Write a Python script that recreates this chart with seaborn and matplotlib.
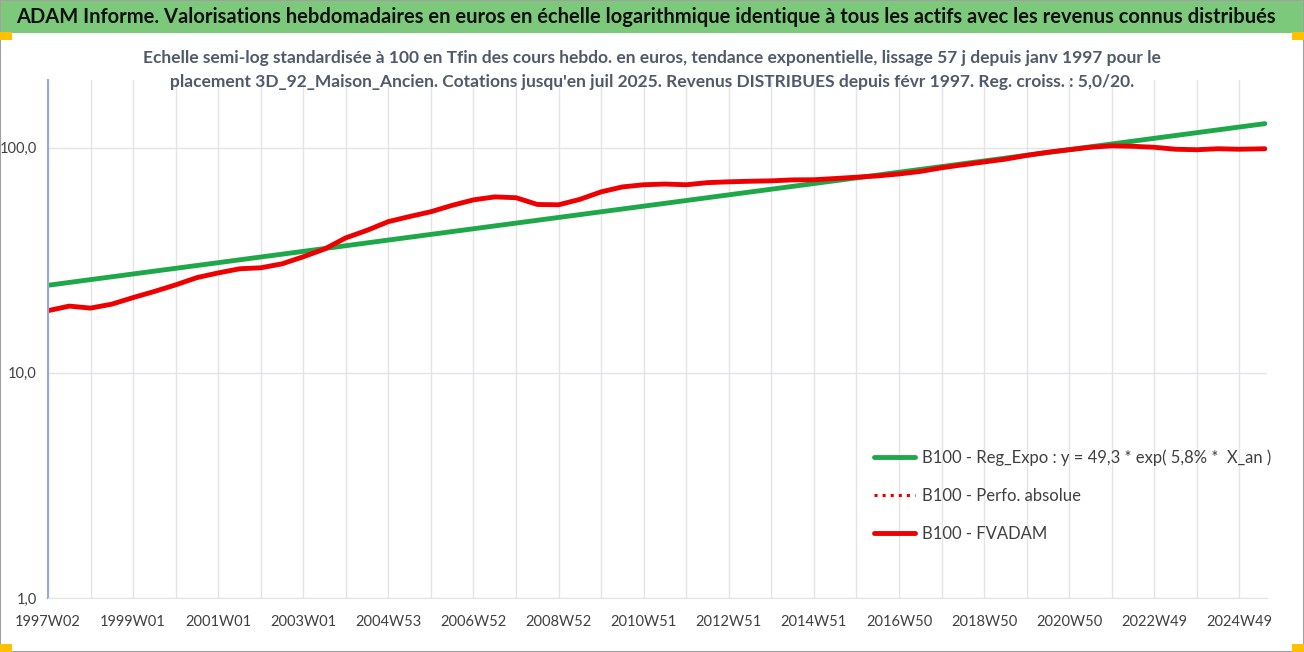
import numpy as np
import matplotlib
matplotlib.use("Agg")
import matplotlib.pyplot as plt
from matplotlib.patches import Rectangle
import seaborn as sns

# ── data ──────────────────────────────────────────────────────────────────────
red_years = [1997.0, 1997.5, 1998.0, 1998.5, 1999.0, 1999.5, 2000.0, 2000.5, 2001.0, 2001.5,
             2002.0, 2002.5, 2003.0, 2003.5, 2004.0, 2004.5, 2005.0, 2005.5, 2006.0, 2006.5,
             2007.0, 2007.5, 2008.0, 2008.5, 2009.0, 2009.5, 2010.0, 2010.5, 2011.0, 2011.5,
             2012.0, 2012.5, 2013.0, 2013.5, 2014.0, 2014.5, 2015.0, 2015.5, 2016.0, 2016.5,
             2017.0, 2017.5, 2018.0, 2018.5, 2019.0, 2019.5, 2020.0, 2020.5, 2021.0, 2021.5,
             2022.0, 2022.5, 2023.0, 2023.5, 2024.0, 2024.5, 2025.0, 2025.6]
red_vals = [18.9, 19.8, 19.4, 20.2, 21.6, 23.0, 24.6, 26.5, 27.8, 29.0,
            29.3, 30.5, 32.8, 35.5, 39.8, 43.0, 47.0, 49.5, 52.0, 55.5,
            58.7, 60.5, 60.0, 56.0, 55.8, 59.0, 63.7, 67.0, 68.5, 69.0,
            68.5, 70.0, 70.6, 71.0, 71.3, 72.0, 72.1, 73.0, 74.0, 75.0,
            76.5, 78.5, 81.5, 84.0, 86.5, 89.0, 92.5, 95.5, 98.0, 100.5,
            102.0, 101.5, 100.5, 98.5, 98.0, 99.0, 98.5, 99.0]
green_years = [1997.0, 2025.6]
green_vals = [24.5, 128.0]
tick_years = [1997, 1999, 2001, 2003, 2005, 2007, 2009, 2011, 2013, 2015,
              2017, 2019, 2021, 2023, 2025]
tick_labels = ["1997W02", "1999W01", "2001W01", "2003W01", "2004W53", "2006W52",
               "2008W52", "2010W51", "2012W51", "2014W51", "2016W50", "2018W50",
               "2020W50", "2022W49", "2024W49"]

sns.set_style("white")
plt.rcParams["font.family"] = ["Lato", "DejaVu Sans"]

fig = plt.figure(figsize=(13.04, 6.52), dpi=100)
ax = fig.add_axes([48 / 1304, 1 - 598 / 652, (1267 - 48) / 1304, (598 - 80) / 652])

sns.lineplot(x=green_years, y=green_vals, ax=ax, color="#1FA84A", lw=3.5,
             label="B100 - Reg_Expo : y = 49,3 * exp( 5,8% *  X_an )")
ax.plot([], [], color="#E00000", lw=2.2, ls=":", label="B100 - Perfo. absolue")
sns.lineplot(x=red_years, y=red_vals, ax=ax, color="#EE0000", lw=3.5,
             label="B100 - FVADAM")

ax.set_yscale("log")
ax.set_ylim(1, 200)
ax.set_xlim(1997.0, 2025.65)
ax.set_yticks([1, 10, 100])
ax.set_yticklabels(["1,0", "10,0", "100,0"])
ax.yaxis.set_minor_locator(matplotlib.ticker.NullLocator())
ax.set_xticks(tick_years)
ax.set_xticklabels(tick_labels)
ax.set_xticks(np.arange(1998, 2026, 2), minor=True)
ax.grid(True, which="both", axis="x", color="#E3E3E8", lw=1)
ax.grid(True, which="major", axis="y", color="#E3E3E8", lw=1)
ax.tick_params(axis="both", labelsize=10.5, colors="#404040", length=0)
ax.tick_params(axis="x", pad=12)
ax.tick_params(axis="y", pad=8)
for s in ["top", "right"]:
    ax.spines[s].set_visible(False)
ax.spines["bottom"].set_color("#E3E3E8")
ax.spines["left"].set_color("#9AA8CC")
ax.spines["left"].set_linewidth(1.5)
ax.set_xlabel("")
ax.set_ylabel("")

leg = ax.legend(loc="lower left", bbox_to_anchor=(0.665, 0.08), frameon=False,
                fontsize=12, labelspacing=1.3, handlelength=2.5, handletextpad=0.4)
for t in leg.get_texts():
    t.set_color("#404040")

# header band and frame
fig.patches.append(Rectangle((0, 1 - 33 / 652), 1, 33 / 652, transform=fig.transFigure,
                             facecolor="#7DC97B", edgecolor="none", zorder=0))
fig.patches.append(Rectangle((0, 0), 1, 1, transform=fig.transFigure,
                             facecolor="none", edgecolor="#A0A0A0", lw=1.5))
for (x0, y0) in [(0, 1 - 40 / 652), (1 - 12 / 1304, 1 - 40 / 652), (0, 0), (1 - 12 / 1304, 0)]:
    fig.patches.append(Rectangle((x0, y0), 12 / 1304, 8 / 652, transform=fig.transFigure,
                                 facecolor="#FFC000", edgecolor="none"))
fig.text(0.012, 1 - 17 / 652,
         "ADAM Informe. Valorisations hebdomadaires en euros en échelle logarithmique identique à tous les actifs avec les revenus connus distribués",
         fontsize=14.5, fontweight="bold", color="#111111", va="center", ha="left")
fig.text(0.5, 1 - 70 / 652,
         "Echelle semi-log standardisée à 100 en Tfin des cours hebdo. en euros, tendance exponentielle, lissage 57 j depuis janv 1997 pour le\n"
         "placement 3D_92_Maison_Ancien. Cotations jusqu'en juil 2025. Revenus DISTRIBUES depuis févr 1997. Reg. croiss. : 5,0/20.",
         fontsize=12.5, fontweight="bold", color="#505A6A", ha="center", va="center",
         linespacing=1.6)

fig.savefig("out.png", dpi=100)
